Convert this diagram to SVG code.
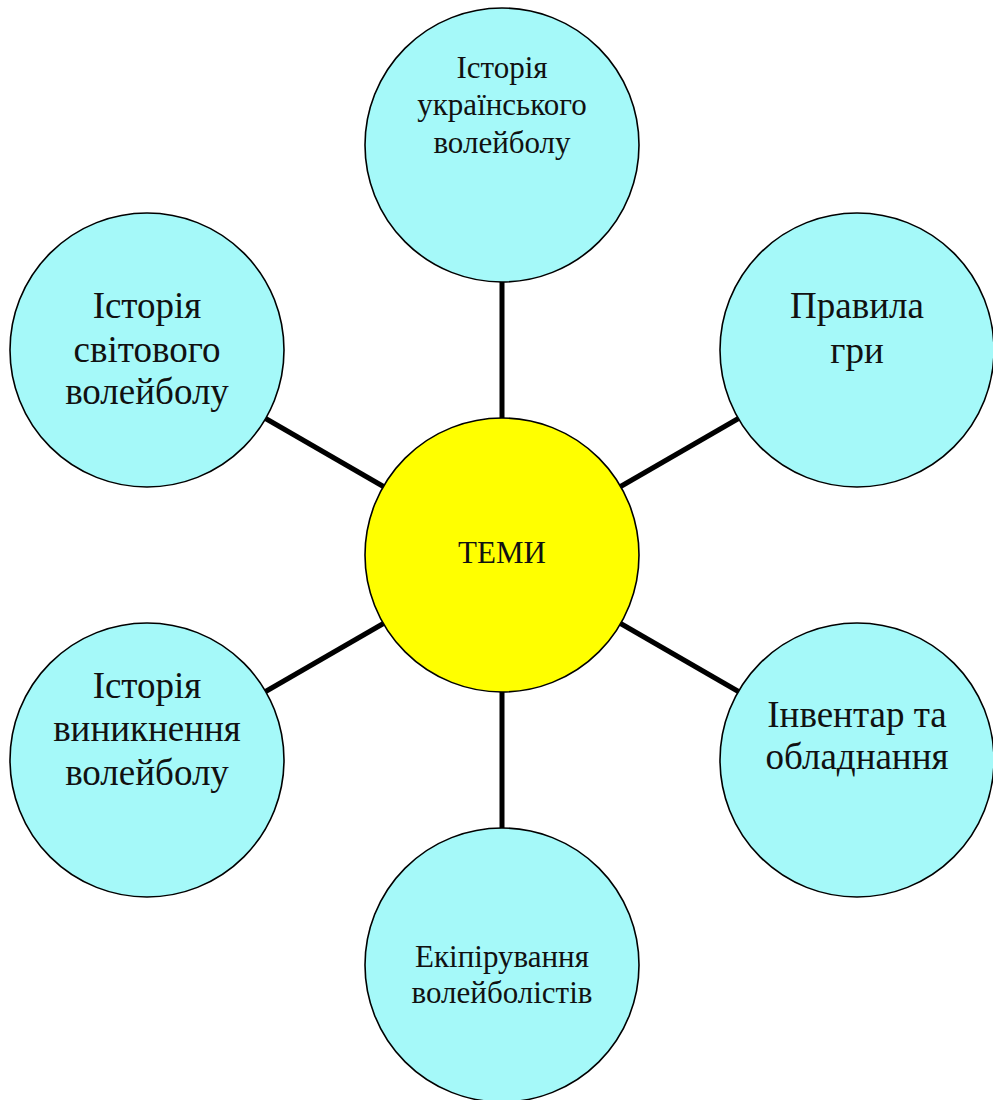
<svg xmlns="http://www.w3.org/2000/svg" width="993" height="1100" viewBox="0 0 993 1100">
<style>
.bg{fill:#ffffff}
.c{fill:#a5f9f9;stroke:#000;stroke-width:1.6}
.y{fill:#ffff00;stroke:#000;stroke-width:1.6}
.l{stroke:#000;stroke-width:5;stroke-linecap:butt;fill:none}
text{font-family:"Liberation Serif","Times New Roman",serif;fill:#111;text-anchor:middle}
.s{font-size:31px}
.b{font-size:37px}
</style>
<rect class="bg" x="0" y="0" width="993" height="1100"/>
<g id="connectors">
<line class="l" x1="502" y1="418" x2="502" y2="282"/>
<line class="l" x1="502" y1="692" x2="502" y2="828"/>
<line class="l" x1="620.6" y1="486.5" x2="738.4" y2="418.5"/>
<line class="l" x1="620.6" y1="623.5" x2="738.4" y2="691.5"/>
<line class="l" x1="383.4" y1="486.5" x2="265.6" y2="418.5"/>
<line class="l" x1="383.4" y1="623.5" x2="265.6" y2="691.5"/>
</g>
<g id="n-ukr">
<circle class="c" cx="502" cy="145" r="137"/>
<text class="s" x="502" y="78">Історія</text>
<text class="s" x="502" y="115">українського</text>
<text class="s" x="502" y="153">волейболу</text>
</g>
<g id="n-rules">
<circle class="c" cx="857" cy="350" r="137"/>
<text class="b" x="857" y="318">Правила</text>
<text class="b" x="857" y="363">гри</text>
</g>
<g id="n-world">
<circle class="c" cx="147" cy="350" r="137"/>
<text class="b" x="147" y="318">Історія</text>
<text class="b" x="147" y="362">світового</text>
<text class="b" x="147" y="404">волейболу</text>
</g>
<g id="n-center">
<circle class="y" cx="502" cy="555" r="137"/>
<text class="s" x="502" y="563">ТЕМИ</text>
</g>
<g id="n-origin">
<circle class="c" cx="147" cy="760" r="137"/>
<text class="b" x="147" y="698">Історія</text>
<text class="b" x="147" y="741">виникнення</text>
<text class="b" x="147" y="785">волейболу</text>
</g>
<g id="n-inv">
<circle class="c" cx="857" cy="760" r="137"/>
<text class="b" x="857" y="727">Інвентар та</text>
<text class="b" x="857" y="769">обладнання</text>
</g>
<g id="n-equip">
<circle class="c" cx="502" cy="965" r="137"/>
<text class="s" x="502" y="967">Екіпірування</text>
<text class="s" x="502" y="1003">волейболістів</text>
</g>
</svg>
